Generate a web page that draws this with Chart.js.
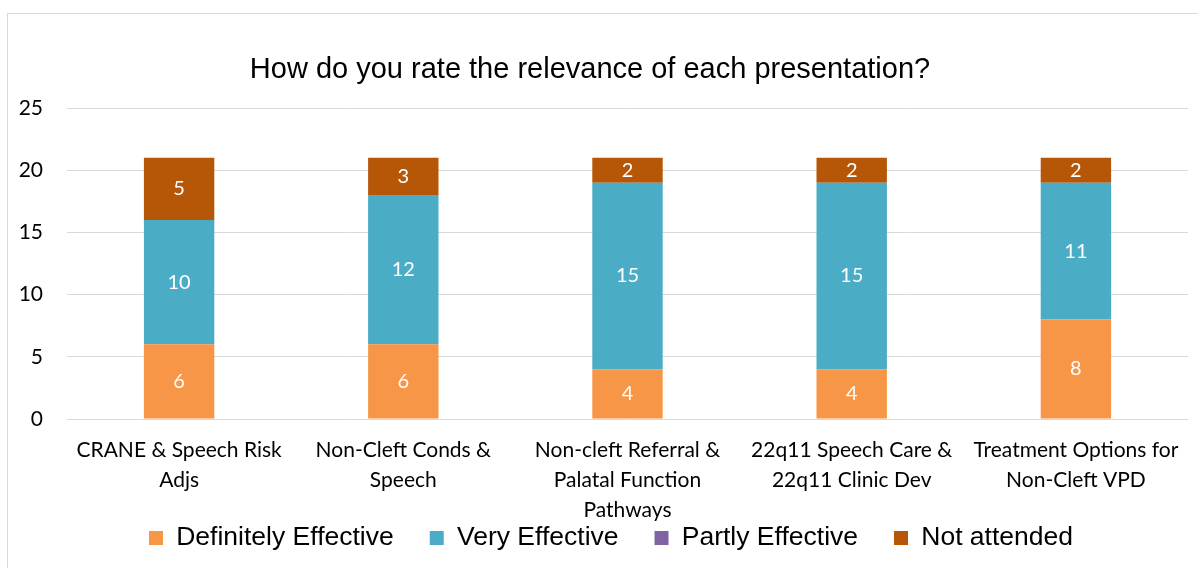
<!DOCTYPE html>
<html>
<head>
<meta charset="utf-8">
<script src="https://cdn.jsdelivr.net/npm/chart.js@4/dist/chart.umd.min.js"></script>
<style>
    html, body { margin: 0; padding: 0; background: #fff; overflow: hidden; }
    #frame {
        position: absolute;
        left: 7px;
        top: 13px;
        width: 1191px;
        height: 555px;
        border-left: 1px solid #d9d9d9;
        border-top: 1px solid #d9d9d9;
    }
    #wrap { position: absolute; left: 0; top: 0; width: 1190px; height: 554px; }
</style>
</head>
<body>
<div id="frame"><div id="wrap"><canvas id="rel-chart"></canvas></div></div>
<script>
'use strict';

const categories = [
    ['CRANE & Speech Risk', 'Adjs'],
    ['Non-Cleft Conds &', 'Speech'],
    ['Non-cleft Referral &', 'Palatal Function', 'Pathways'],
    ['22q11 Speech Care &', '22q11 Clinic Dev'],
    ['Treatment Options for', 'Non-Cleft VPD']
];
const definitely_effective = [6, 6, 4, 4, 8];
const very_effective = [10, 12, 15, 15, 11];
const partly_effective = [0, 0, 0, 0, 0];
const not_attended = [5, 3, 2, 2, 2];

const y_ticks = [0, 5, 10, 15, 20, 25];

const label_font = 'Lato, Carlito, Calibri, sans-serif';
const arial_font = '"Liberation Sans", Arial, sans-serif';

// white value labels in the middle of each segment
const bar_labels = {
    id: 'bar_labels',
    afterDatasetsDraw(chart) {
        const ctx = chart.ctx;
        ctx.save();
        ctx.fillStyle = '#fff';
        ctx.font = `20px ${label_font}`;
        ctx.textAlign = 'center';
        ctx.textBaseline = 'middle';
        chart.data.datasets.forEach((ds, i) => {
            const meta = chart.getDatasetMeta(i);
            meta.data.forEach((bar, j) => {
                const v = ds.data[j];
                if (!v) return;
                const mid = (bar.y + bar.base) / 2;
                ctx.fillText(String(v), bar.x, mid);
            });
        });
        ctx.restore();
    }
};

// title a bit left of centre, legend a bit right, like the original
const nudge_boxes = {
    id: 'nudge_boxes',
    afterLayout(chart) {
        chart.titleBlock.left -= 8;
        chart.titleBlock.right -= 8;
        chart.legend.left += 13;
        chart.legend.right += 13;
        chart.legend.top += 2;
        chart.legend.bottom += 2;
    }
};

const chart_data = {
    labels: categories,
    datasets: [
        { label: 'Definitely Effective', data: definitely_effective, backgroundColor: '#f79646' },
        { label: 'Very Effective', data: very_effective, backgroundColor: '#4bacc6' },
        { label: 'Partly Effective', data: partly_effective, backgroundColor: '#8064a2' },
        { label: 'Not attended', data: not_attended, backgroundColor: '#b65708' }
    ]
};

const config = {
    type: 'bar',
    data: chart_data,
    plugins: [bar_labels, nudge_boxes],
    options: {
        responsive: true,
        maintainAspectRatio: false,
        animation: false,
        layout: {
            padding: { left: 0, right: 10, top: 38.6, bottom: 8.75 }
        },
        datasets: {
            bar: {
                categoryPercentage: 0.314,
                barPercentage: 1,
                borderWidth: 0
            }
        },
        plugins: {
            title: {
                display: true,
                text: 'How do you rate the relevance of each presentation?',
                color: '#000',
                font: { family: arial_font, size: 29, weight: 'normal' },
                padding: { top: 0, bottom: 20.6 }
            },
            legend: {
                position: 'bottom',
                labels: {
                    color: '#000',
                    boxWidth: 14,
                    boxHeight: 14,
                    padding: 36,
                    font: { family: arial_font, size: 26.5 }
                }
            },
            tooltip: { enabled: false }
        },
        scales: {
            x: {
                stacked: true,
                afterFit: axis => {
                    // labels run down into the legend band, as in the original
                    axis.height = 67.75;
                    axis._computeLabelArea = () => undefined;
                },
                grid: { display: false, drawTicks: false },
                border: { display: false },
                ticks: {
                    color: '#000',
                    maxRotation: 0,
                    autoSkip: false,
                    padding: 16,
                    font: { family: label_font, size: 21, lineHeight: 1.43 }
                }
            },
            y: {
                stacked: true,
                min: 0,
                max: 25,
                afterFit: axis => { axis.width = 59; },
                afterBuildTicks: axis => {
                    axis.ticks = y_ticks.map(v => ({ value: v }));
                },
                grid: { color: '#d9d9d9', lineWidth: 1, drawTicks: false },
                border: { display: false },
                ticks: {
                    color: '#000',
                    padding: 24,
                    font: { family: label_font, size: 21 }
                }
            }
        }
    }
};

const chart = new Chart(document.getElementById('rel-chart'), config);
</script>
</body>
</html>
